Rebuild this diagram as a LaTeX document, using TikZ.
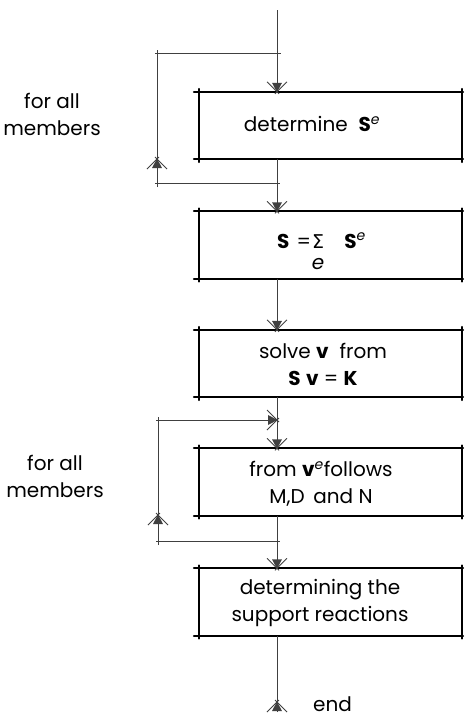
\documentclass[tikz,border=0pt]{standalone}
\usepackage{fontspec}
\setmainfont{Poppins}
\newfontfamily\symfont{DejaVu Sans}
\usetikzlibrary{arrows.meta}

% Drafting-style arrow: narrow filled head with two thin barbs crossing at the tip
\pgfdeclarearrow{
  name = Draft,
  setup code = {
    \pgfarrowssettipend{0pt}
    \pgfarrowssetlineend{-4pt}
    \pgfarrowssetbackend{-11pt}
    \pgfarrowsupperhullpoint{-11pt}{10pt}
    \pgfarrowsupperhullpoint{2pt}{2pt}
  },
  drawing code = {
    \pgfpathmoveto{\pgfpoint{0.5pt}{0pt}}
    \pgfpathlineto{\pgfpoint{-9pt}{5pt}}
    \pgfpathlineto{\pgfpoint{-9pt}{-5pt}}
    \pgfpathclose
    \pgfusepathqfill
    \pgfsetlinewidth{0.8pt}
    \pgfpathmoveto{\pgfpoint{2pt}{-2pt}}
    \pgfpathlineto{\pgfpoint{-10pt}{10pt}}
    \pgfpathmoveto{\pgfpoint{2pt}{2pt}}
    \pgfpathlineto{\pgfpoint{-10pt}{-10pt}}
    \pgfusepathqstroke
  }
}

% box outline with drafting overshoots at the corners
\newcommand\boxedge[1]{%
  \draw[edge] ([xshift=-5pt]#1.north west) -- ([xshift=1pt]#1.north east);
  \draw[edge] ([xshift=-5pt]#1.south west) -- ([xshift=1pt]#1.south east);
  \draw[edge] ([yshift=3pt]#1.north west) -- ([yshift=-3pt]#1.south west);
  \draw[edge] ([yshift=3pt]#1.north east) -- ([yshift=-3pt]#1.south east);
}
\newcommand\supe{\textsuperscript{\itshape e}}

\begin{document}
\begin{tikzpicture}[x=1pt,y=-1pt,
  box/.style={rectangle, minimum width=263pt, minimum height=67pt, inner sep=0pt},
  txt/.style={align=center, inner sep=0pt, font=\fontsize{20pt}{27pt}\selectfont},
  edge/.style={line width=1.8pt, line cap=round, black},
  conn/.style={line width=0.8pt, black!75},
]
\useasboundingbox (0,0) rectangle (464,718);

% process boxes
\node[box] (b1) at (330.5,125.5) {};
\node[box] (b2) at (330.5,245) {};
\node[box] (b3) at (330.5,363.5) {};
\node[box] (b4) at (330.5,482) {};
\node[box] (b5) at (330.5,602) {};
\foreach \b in {b1,b2,b3,b4,b5} {\boxedge{\b}}

% box texts
\node[txt] (t1) at (312,124) {determine\; \textbf{S}\supe};
\node[txt, anchor=base west] (t2) at (277,248) {\textbf{S}\hspace{7pt}=\hspace{1pt}%
  \begin{tabular}[t]{@{}c@{}}{\symfont\fontsize{19pt}{19pt}\selectfont Σ}\\[-6pt]\itshape e\end{tabular}%
  \hspace{20pt}\textbf{S}\supe};
\node[txt] (t3) at (323,364) {solve \textbf{v}\; from\\\textbf{S} \textbf{v} = \textbf{K}};
\node[txt] (t4) at (321,484) {from \textbf{v}\supe follows\\M,D\, and N};
\node[txt] (t5) at (320,603) {determining the\\support reactions};

% loop labels and end label
\node[txt] (m1) at (52,114) {for all\\members};
\node[txt] (m2) at (55,476) {for all\\members};
\node[txt, anchor=base west] (endlbl) at (313,711) {end};

% main flow line
\coordinate (top) at (277,10);
\coordinate (endtip) at (277,702);
\coordinate (endbase) at (277,712);
\draw[conn,-Draft] (top) -- (b1.north -| top);
\draw[conn,-Draft] (b1.south -| top) -- (b2.north -| top);
\draw[conn,-Draft] (b2.south -| top) -- (b3.north -| top);
\draw[conn,-Draft] (b3.south -| top) -- (b4.north -| top);
\draw[conn,-Draft] (b4.south -| top) -- (b5.north -| top);
\draw[conn] (b5.south -| top) -- (endtip);
\draw[conn,-Draft] (endbase) -- (endtip);

% first loop
\coordinate (l1a) at (277,53);
\coordinate (l1b) at (157,53);
\coordinate (l1c) at (157,183);
\coordinate (l1d) at (277,183);
\coordinate (l1m) at (157,159);
\draw[conn] ([xshift=-2pt]l1b) -- ([xshift=4pt]l1a);
\draw[conn] ([xshift=-2pt]l1c) -- ([xshift=3pt]l1d);
\draw[conn,-Draft] ([yshift=-4pt]l1c) -- (l1m);
\draw[conn] (l1m) -- ([yshift=3pt]l1b);

% second loop
\coordinate (l2a) at (277,420);
\coordinate (l2b) at (158,420);
\coordinate (l2c) at (158,541);
\coordinate (l2d) at (277,541);
\coordinate (l2m) at (158,515);
\draw[conn,-Draft] ([xshift=-2pt]l2b) -- (l2a);
\draw[conn] ([xshift=-2pt]l2c) -- ([xshift=3pt]l2d);
\draw[conn,-Draft] ([yshift=-4pt]l2c) -- (l2m);
\draw[conn] (l2m) -- ([yshift=3pt]l2b);
\end{tikzpicture}
\end{document}
